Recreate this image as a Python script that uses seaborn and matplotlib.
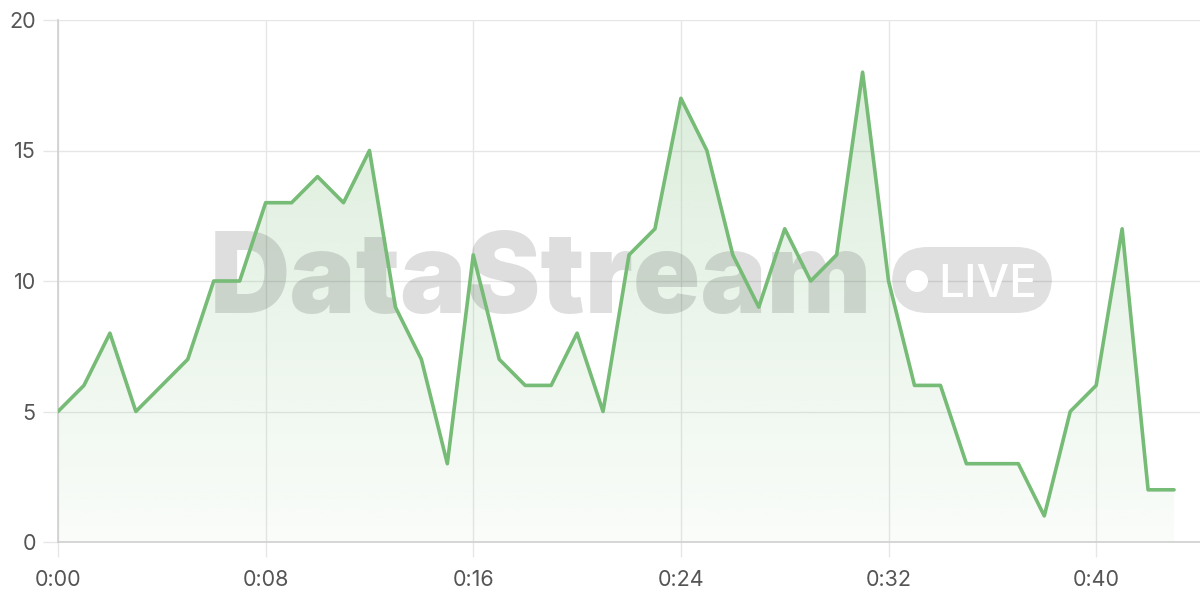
import numpy as np
import pandas as pd
import seaborn as sns
import matplotlib.pyplot as plt
from matplotlib.patches import FancyBboxPatch, Ellipse

minutes = list(range(44))
values = [5, 6, 8, 5, 6, 7, 10, 10, 13, 13, 14, 13, 15, 9, 7, 3, 11, 7, 6, 6,
          8, 5, 11, 12, 17, 15, 11, 9, 12, 10, 11, 18, 10, 6, 6, 3, 3, 3, 1, 5,
          6, 12, 2, 2]
tick_minutes = [0, 8, 16, 24, 32, 40]
tick_labels = ["0:00", "0:08", "0:16", "0:24", "0:32", "0:40"]
y_ticks = [0, 5, 10, 15, 20]
watermark = "DataStream"
badge = "LIVE"

df = pd.DataFrame({"minute": minutes, "value": values})

sns.set_theme(style="white")
plt.rcParams['font.family'] = ['Inter', 'DejaVu Sans']

line_color = "#76bb76"
grid_color = "#e6e6e6"

W, H = 1200, 600
fig = plt.figure(figsize=(12, 6), dpi=100)
ax = fig.add_axes([58/W, 58/H, 1 - 58/W, (542-20)/H])

ax.set_xlim(0, 44)
ax.set_ylim(0, 20)

# gradient fill
grad = np.linspace(0.04, 0.26, 256)
rgba = np.zeros((256, 1, 4))
rgba[..., 0] = 0x76/255
rgba[..., 1] = 0xbb/255
rgba[..., 2] = 0x76/255
rgba[:, 0, 3] = grad
ymax = max(values)
img = ax.imshow(rgba, origin="lower", aspect="auto",
                extent=[minutes[0], minutes[-1], 0, ymax], zorder=1,
                interpolation="bilinear")
poly = ax.fill_between(df["minute"], df["value"], 0, color="none", lw=0)
img.set_clip_path(poly.get_paths()[0], transform=ax.transData)

# watermark (inside axes so the line stays on top)
ax.text(210/W, 1 - 313/H, watermark, transform=fig.transFigure,
        ha="left", va="baseline", fontsize=80, fontweight=900, color="black",
        alpha=0.13, zorder=2, clip_on=False, family=["Inter", "DejaVu Sans"])
box = FancyBboxPatch((892/W, 1 - 313/H), (1052-892)/W, (313-247)/H,
                     boxstyle="round,pad=0,rounding_size=0.03",
                     transform=fig.transFigure, facecolor="black", alpha=0.12,
                     edgecolor="none", zorder=2, mutation_aspect=2, clip_on=False)
ax.add_patch(box)
ax.add_patch(Ellipse((917/W, 1 - 281/H), 22/W, 22/H, transform=fig.transFigure,
                     facecolor="white", edgecolor="none", zorder=2.5, clip_on=False))
ax.text(938/W, 1 - 297/H, badge, transform=fig.transFigure, ha="left",
        va="baseline", fontsize=33, fontweight=500, color="white", zorder=3,
        clip_on=False, family=["Inter", "DejaVu Sans"])

sns.lineplot(data=df, x="minute", y="value", ax=ax, color=line_color,
             linewidth=2.6, zorder=4)

ax.set_xticks(tick_minutes)
ax.set_xticklabels(tick_labels)
ax.set_yticks(y_ticks)
ax.grid(True, color=grid_color, linewidth=1, zorder=0)
ax.set_axisbelow(True)
for s in ["top", "right"]:
    ax.spines[s].set_visible(False)
for s in ["left", "bottom"]:
    ax.spines[s].set_color("#cfcfcf")
    ax.spines[s].set_linewidth(1.2)
ax.tick_params(axis="both", length=11, width=1, color=grid_color,
               labelsize=15.5, labelcolor="#555555")
ax.tick_params(axis="x", pad=9, bottom=True)
ax.tick_params(axis="y", pad=5, left=True)
ax.set_xlabel("")
ax.set_ylabel("")

fig.savefig("out.png", dpi=100)
